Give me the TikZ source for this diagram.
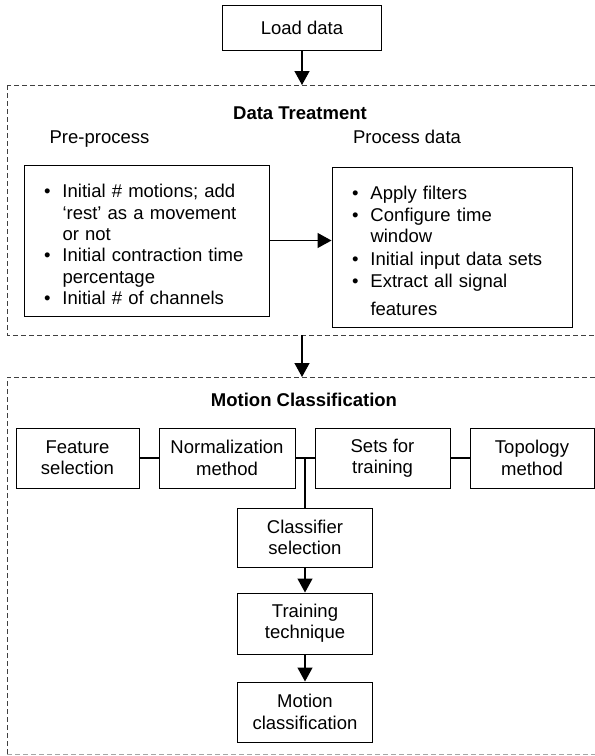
\documentclass[tikz,border=0pt]{standalone}
\usepackage{fontspec}
\setmainfont{Liberation Sans}
\usetikzlibrary{arrows.meta}

% bullet item with hanging indent; \nl breaks a line inside the item
\newcommand\bitem[1]{\par\hangindent=18.5pt\hangafter=1\noindent
  \makebox[18.5pt][l]{\textbullet}#1\par}
\newcommand\nl{\hfil\break}
\newcommand\nlgap[1]{\vadjust{\vskip#1}\hfil\break}

\tikzset{
  box/.style={draw, line width=1pt, inner sep=0pt, align=center},
  colbox/.style={box, minimum width=135pt, minimum height=60pt},
  listbox/.style={box, inner xsep=20pt, align=left},
  frame/.style={draw=black!75, line width=1pt, dash pattern=on 5pt off 3pt},
  arr/.style={line width=1.3pt, -{Triangle[length=14pt,width=15pt]}},
  link/.style={line width=1.3pt},
  heading/.style={anchor=base, font=\fontsize{18.5pt}{21.4pt}\selectfont\bfseries},
  sublabel/.style={anchor=base}
}

\begin{document}
\begin{tikzpicture}[x=1pt, y=-1pt, font=\fontsize{18.5pt}{21.4pt}\selectfont]
\useasboundingbox (0,0) rectangle (595,756);
\clip (0,0) rectangle (595,756);

% dashed section frames
\draw[frame] (7,85) rectangle (599,335);
\draw[frame] (7,754) -- (7,377) -- (599,377) -- (599,754);
\draw[frame, draw=black!35] (7,754) -- (599,754);
\coordinate (dt top) at (302,85);
\coordinate (dt bot) at (302,335);
\coordinate (mc top) at (302,377);

% input
\node[box, minimum width=159pt, minimum height=45pt] (load) at (302,27.5) {Load data};
\draw[arr] (load.south) -- (dt top);

% data treatment
\node[heading] (dtt) at (300,119) {Data Treatment};
\node[sublabel] (prel) at (99.5,143) {Pre-process};
\node[sublabel] (procl) at (407,143) {Process data};

\node[listbox, text width=205pt, minimum height=151pt] (pre) at (146.5,240.5) {%
  \bitem{Initial \# motions; add\nl `rest' as a movement\nl or not}%
  \bitem{Initial contraction time\nl percentage}%
  \bitem{Initial \# of channels}};

\node[listbox, text width=200pt, minimum height=160pt] (proc) at (452,247) {%
  \bitem{Apply filters}%
  \bitem{Configure time\nl window}%
  \vspace{2pt}%
  \bitem{Initial input data sets}%
  \bitem{Extract all signal\nlgap{7pt}features}};

\draw[arr] (pre.east) -- (pre.east -| proc.west);
\draw[arr] (dt bot) -- (mc top);

% motion classification
\node[heading] (mct) at (304,406) {Motion Classification};

\node[box, minimum width=123pt, minimum height=60pt] (feat) at (77.5,458) {Feature\\selection};
\node[box, minimum width=136pt, minimum height=60pt] (norm) at (227,458) {Normalization\\method};
\node[box, minimum width=135pt, minimum height=60pt] (sets) at (382.5,458) {Sets for\\training};
\node[box, minimum width=124pt, minimum height=60pt] (topo) at (532,458) {Topology\\method};

\node[colbox, minimum height=59pt] (clas) at (305,537.5) {Classifier\\selection};
\node[colbox, minimum height=61pt] (train) at (305,623.5) {Training\\technique};
\node[colbox] (motion) at (305,712) {Motion\\classification};

\draw[link] (feat) -- (norm);
\draw[link] (norm) -- (sets);
\draw[link] (sets) -- (topo);
\draw[link] (clas.north) -- (clas.north |- norm.east);
\draw[arr] (clas) -- (train);
\draw[arr] (train) -- (motion);
\end{tikzpicture}
\end{document}
